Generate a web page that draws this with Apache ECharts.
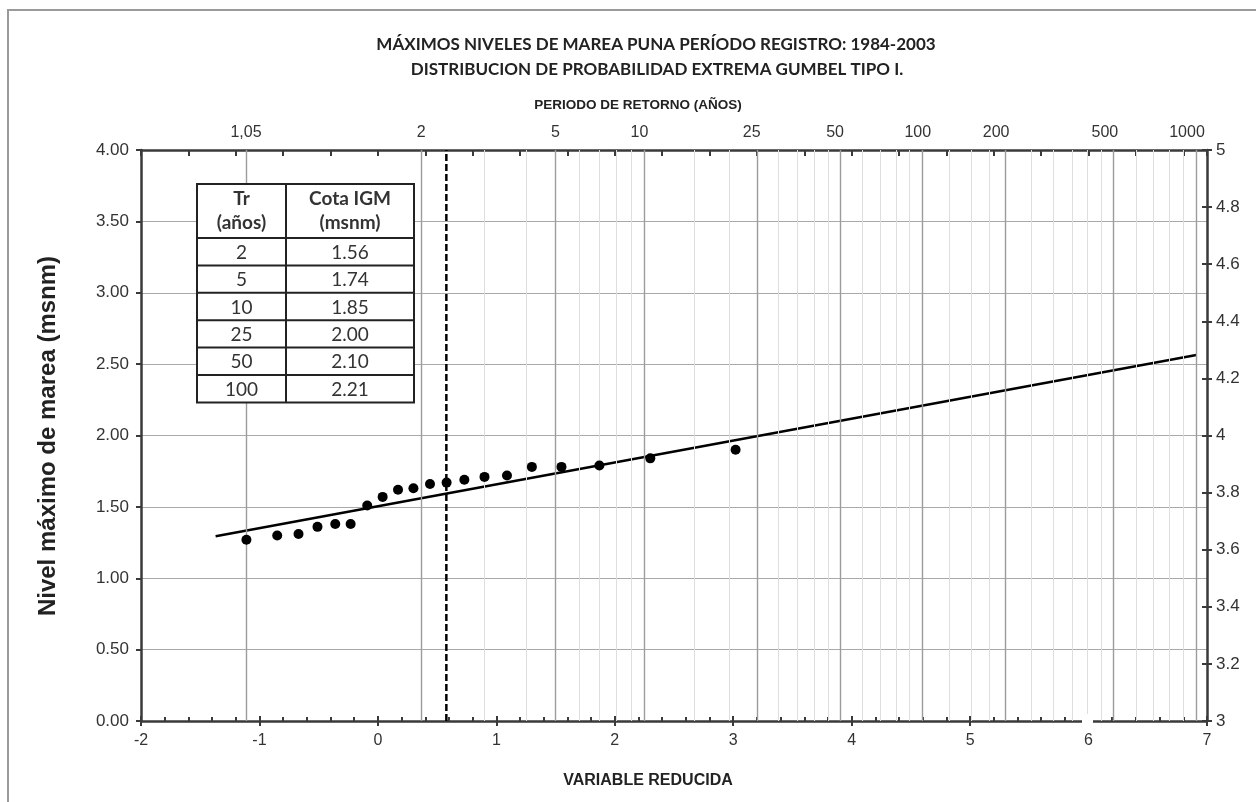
<!DOCTYPE html>
<html>
<head>
<meta charset="utf-8">
<script src="https://cdn.jsdelivr.net/npm/echarts@6/dist/echarts.min.js"></script>
<style>
  html, body { margin: 0; padding: 0; background: #ffffff; }
  #chart { width: 1256px; height: 802px; }
</style>
</head>
<body>
<div id="chart"></div>
<script>
// Return periods (years) shown on the upper scale, with their printed labels
const returnPeriodMajor = [1.05, 2, 5, 10, 25, 50, 100, 200, 500, 1000];
const returnPeriodLabels = ['1,05', '2', '5', '10', '25', '50', '100', '200', '500', '1000'];
// Intermediate return periods that only get a light grid line
const returnPeriodMinor = [3, 4, 6, 7, 8, 9, 15, 20, 30, 35, 40, 45, 60, 70, 80, 90,
  125, 150, 175, 250, 300, 350, 400, 450, 600, 700, 800, 900];

// Annual maximum tide levels 1984-2003 (msnm) against Gumbel reduced variate
const reducedVariate = [-1.11, -0.85, -0.67, -0.51, -0.36, -0.23, -0.09, 0.04, 0.17, 0.30,
  0.44, 0.58, 0.73, 0.90, 1.09, 1.30, 1.55, 1.87, 2.30, 3.02];
const maxTideLevel = [1.27, 1.30, 1.31, 1.36, 1.38, 1.38, 1.51, 1.57, 1.62, 1.63,
  1.66, 1.67, 1.69, 1.71, 1.72, 1.78, 1.78, 1.79, 1.84, 1.90];

// Fitted Gumbel line (end points) and the mean-annual (Tr = 2.33) marker
const fitLineX = [-1.37, 6.91];
const fitLineY = [1.294, 2.564];
const meanAnnualX = 0.578;

// Design levels table
const tableTr = ['2', '5', '10', '25', '50', '100'];
const tableCota = ['1.56', '1.74', '1.85', '2.00', '2.10', '2.21'];

// Gumbel probability paper: return period -> reduced variate
function reduced(T) { return -Math.log(-Math.log(1 - 1 / T)); }

const AXIS = '#3a3a3a';
const LABEL = '#333333';
const SANS = 'Liberation Sans';
const SANS_CSS = '"Liberation Sans", Arial, sans-serif';
const CAL = 'Lato, "Open Sans", sans-serif';

// Tick labels use a rich style so their size is set per token
function tickLabel(size, fmt, extra) {
  const base = { fontSize: size, fontFamily: SANS, color: LABEL, lineHeight: size + 2 };
  return Object.assign({
    fontSize: size, fontFamily: SANS, color: LABEL,
    formatter: (v, i) => fmt(v, i),
    rich: {
      t: base,
      s: Object.assign({ padding: [0, 10, 0, 0] }, base),
      w: Object.assign({ padding: [0, 18, 0, 0] }, base)
    }
  }, extra || {});
}

const gridMarks = []
  .concat(returnPeriodMinor.map(T => ({ xAxis: reduced(T), lineStyle: { color: '#dedede', width: 1, type: 'solid' } })))
  .concat(returnPeriodMajor.map(T => ({ xAxis: reduced(T), lineStyle: { color: '#9c9c9c', width: 1.4, type: 'solid' } })));

const topValues = returnPeriodMajor.map(reduced);
// Upper labels sit a little left of their grid lines once the text gets wider
function topLabel(v) {
  let best = 0;
  topValues.forEach((t, i) => { if (Math.abs(t - v) < Math.abs(topValues[best] - v)) best = i; });
  const T = returnPeriodMajor[best];
  const cls = T >= 200 ? 'w' : (T >= 10 ? 's' : 't');
  return '{' + cls + '|' + returnPeriodLabels[best] + '}';
}
function plain(v) { return '{t|' + String(Math.round(v * 10) / 10) + '}'; }
function fixed2(v) { return '{t|' + v.toFixed(2) + '}'; }

// Table drawn as graphic elements
const tbl = { x: 197, y: 184, w: 217, split: 286, head: 54, row: 27.4 };
const tableEls = [];
const tblH = tbl.head + tbl.row * tableTr.length;
tableEls.push({ type: 'rect', shape: { x: tbl.x, y: tbl.y, width: tbl.w, height: tblH },
  style: { fill: '#ffffff', stroke: '#222', lineWidth: 2 }, z: 10 });
tableEls.push({ type: 'line', shape: { x1: tbl.split, y1: tbl.y, x2: tbl.split, y2: tbl.y + tblH },
  style: { stroke: '#222', lineWidth: 2 }, z: 11 });
for (let i = 0; i < tableTr.length; i++) {
  const yl = tbl.y + tbl.head + tbl.row * i;
  tableEls.push({ type: 'line', shape: { x1: tbl.x, y1: yl, x2: tbl.x + tbl.w, y2: yl },
    style: { stroke: '#222', lineWidth: 2 }, z: 11 });
  const yc = yl + tbl.row / 2 + 1;
  tableEls.push({ type: 'text', x: (tbl.x + tbl.split) / 2, y: yc, z: 12,
    style: { text: tableTr[i], font: '19px ' + CAL, fill: '#333', align: 'center', verticalAlign: 'middle' } });
  tableEls.push({ type: 'text', x: (tbl.split + tbl.x + tbl.w) / 2, y: yc, z: 12,
    style: { text: tableCota[i], font: '19px ' + CAL, fill: '#333', align: 'center', verticalAlign: 'middle' } });
}
[['Tr', 0], ['(años)', 1]].forEach(([t, k]) => tableEls.push({ type: 'text', x: (tbl.x + tbl.split) / 2,
  y: tbl.y + 15 + k * 24, z: 12, style: { text: t, font: 'bold 19px ' + CAL, fill: '#333', align: 'center', verticalAlign: 'middle' } }));
[['Cota IGM', 0], ['(msnm)', 1]].forEach(([t, k]) => tableEls.push({ type: 'text', x: (tbl.split + tbl.x + tbl.w) / 2,
  y: tbl.y + 15 + k * 24, z: 12, style: { text: t, font: 'bold 19px ' + CAL, fill: '#333', align: 'center', verticalAlign: 'middle' } }));

const chart = echarts.init(document.getElementById('chart'), null, { renderer: 'canvas' });

chart.setOption({
  animation: false,
  backgroundColor: '#ffffff',
  textStyle: { fontFamily: SANS },
  grid: { left: 141, right: 49, top: 150, bottom: 81 },
  xAxis: [
    {
      type: 'value', position: 'bottom', min: -2, max: 7, interval: 1,
      axisLine: { onZero: false, lineStyle: { color: AXIS, width: 2.5 } },
      axisTick: { show: true, inside: true, length: 5, lineStyle: { color: AXIS, width: 2 } },
      minorTick: { show: true, splitNumber: 5, length: 4, lineStyle: { color: AXIS, width: 2 } },
      axisLabel: tickLabel(16, plain, { margin: 11 }),
      splitLine: { show: false }
    },
    {
      type: 'value', position: 'top', min: -2, max: 7, interval: 0.4,
      axisLine: { onZero: false, lineStyle: { color: AXIS, width: 2.5 } },
      axisTick: { show: true, inside: true, length: 6, lineStyle: { color: AXIS, width: 2 } },
      axisLabel: tickLabel(16, topLabel, { customValues: topValues, margin: 8 }),
      splitLine: { show: false }
    },
    {
      type: 'value', position: 'bottom', min: -2, max: 7, interval: 1,
      axisLine: { show: false, onZero: false },
      axisTick: { show: true, inside: false, length: 5, lineStyle: { color: AXIS, width: 2 } },
      axisLabel: { show: false },
      splitLine: { show: false }
    }
  ],
  yAxis: [
    {
      type: 'value', position: 'left', min: 0, max: 4, interval: 0.5,
      axisLine: { show: true, onZero: false, lineStyle: { color: AXIS, width: 2.5 } },
      axisTick: { show: true, inside: false, length: 5, lineStyle: { color: AXIS, width: 2 } },
      axisLabel: tickLabel(17, fixed2, { margin: 12 }),
      splitLine: { show: true, lineStyle: { color: '#a9a9a9', width: 1.2 } }
    },
    {
      type: 'value', position: 'right', min: 3, max: 5, interval: 0.2,
      axisLine: { show: true, onZero: false, lineStyle: { color: AXIS, width: 2.5 } },
      axisTick: { show: true, inside: false, length: 5, lineStyle: { color: AXIS, width: 2 } },
      axisLabel: tickLabel(17, plain, { margin: 9 }),
      splitLine: { show: false }
    },
    {
      type: 'value', position: 'right', min: 3, max: 5, interval: 0.2,
      axisLine: { show: false, onZero: false },
      axisTick: { show: true, inside: true, length: 5, lineStyle: { color: AXIS, width: 2 } },
      axisLabel: { show: false },
      splitLine: { show: false }
    }
  ],
  series: [
    {
      name: 'grid', type: 'line', data: [], z: 1, silent: true,
      markLine: { silent: true, symbol: 'none', label: { show: false }, animation: false, data: gridMarks }
    },
    {
      name: 'Tr 2.33', type: 'line', z: 3, symbol: 'none',
      data: [[meanAnnualX, 0], [meanAnnualX, 4]],
      lineStyle: { color: '#000', width: 2.5, type: [7, 3] }
    },
    {
      name: 'Gumbel', type: 'line', z: 4, symbol: 'none',
      data: fitLineX.map((x, i) => [x, fitLineY[i]]),
      lineStyle: { color: '#000', width: 2.5 }
    },
    {
      name: 'Registro', type: 'scatter', z: 5, symbol: 'circle', symbolSize: 10,
      data: reducedVariate.map((x, i) => [x, maxTideLevel[i]]),
      itemStyle: { color: '#000', opacity: 1 }
    }
  ],
  graphic: [
    { type: 'rect', shape: { x: 8, y: 10, width: 1300, height: 850 },
      style: { fill: 'none', stroke: '#9a9a9a', lineWidth: 2 }, z: 0 },
    { type: 'text', x: 656, y: 45, style: { text: 'MÁXIMOS NIVELES DE MAREA PUNA PERÍODO REGISTRO: 1984-2003',
      font: 'bold 17px ' + CAL, fill: '#222', align: 'center', verticalAlign: 'middle' } },
    { type: 'text', x: 657, y: 70, style: { text: 'DISTRIBUCION DE PROBABILIDAD EXTREMA GUMBEL TIPO I.',
      font: 'bold 17px ' + CAL, fill: '#222', align: 'center', verticalAlign: 'middle' } },
    { type: 'text', x: 638, y: 105, style: { text: 'PERIODO DE RETORNO (AÑOS)',
      font: 'bold 13.5px ' + SANS_CSS, fill: '#222', align: 'center', verticalAlign: 'middle' } },
    { type: 'text', x: 648, y: 781, style: { text: 'VARIABLE REDUCIDA',
      font: 'bold 16px ' + SANS_CSS, fill: '#222', align: 'center', verticalAlign: 'middle' } },
    { type: 'text', x: 48, y: 436, rotation: Math.PI / 2, style: { text: 'Nivel máximo de marea (msnm)',
      font: 'bold 24px ' + SANS_CSS, fill: '#222', align: 'center', verticalAlign: 'middle' } },
    { type: 'rect', shape: { x: 1082, y: 714, width: 11, height: 14 }, style: { fill: '#ffffff' }, z: 20 }
  ].concat(tableEls)
});
</script>
</body>
</html>
